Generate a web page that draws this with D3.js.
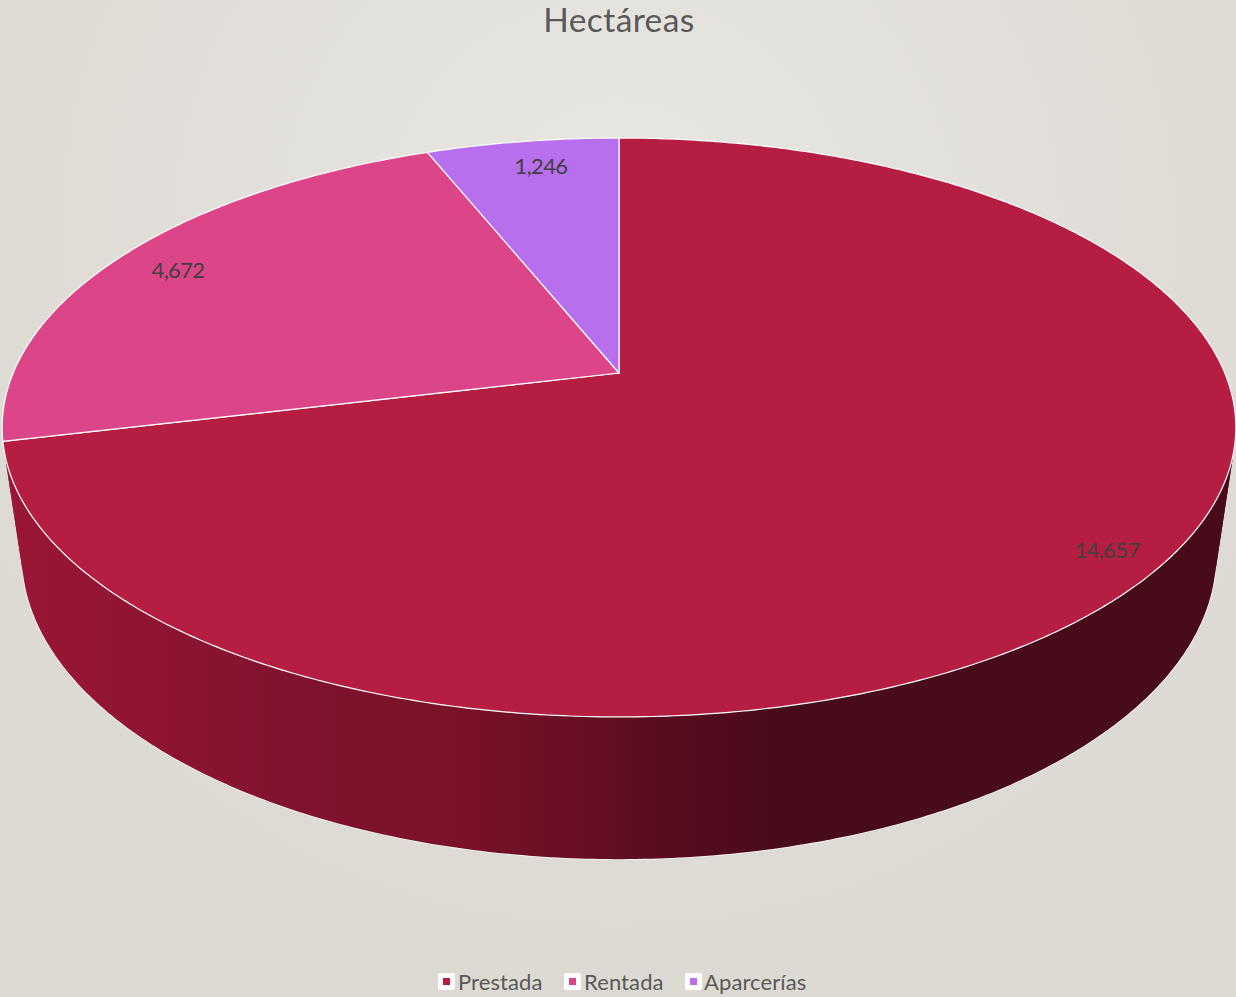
<!DOCTYPE html>
<html><head><meta charset="utf-8">
<script src="https://cdn.jsdelivr.net/npm/d3@7"></script>
<style>html,body{margin:0;padding:0;background:#dfdcd6;overflow:hidden}svg{display:block}text{font-family:Lato,"Open Sans",sans-serif}</style>
</head><body><svg id="c" width="1236" height="997"></svg>
<script>
const titleText = "Hectáreas";
const categories = ["Prestada", "Rentada", "Aparcerías"];
const values = [14657, 4672, 1246];
const labels = ["14,657", "4,672", "1,246"];
const sliceColors = ["#b51d42", "#dd4589", "#b76fed"];
const wallStopX = [0, 100, 300, 450, 600, 660, 780, 1236];
const wallStopColors = ["#9a1636", "#931534", "#80122d", "#7a1229", "#650e22", "#5a0c1e", "#470b1a", "#470b1a"];

const W = 1236, H = 997;
const svg = d3.select("#c");
const defs = svg.append("defs");
const bg = defs.append("radialGradient").attr("id", "bg").attr("gradientUnits", "userSpaceOnUse")
  .attr("cx", 618).attr("cy", 230).attr("r", 800);
bg.append("stop").attr("offset", 0).attr("stop-color", "#e9e7e3");
bg.append("stop").attr("offset", 0.65).attr("stop-color", "#e0ddd7");
bg.append("stop").attr("offset", 1).attr("stop-color", "#dcd9d2");
svg.append("rect").attr("width", W).attr("height", H).attr("fill", "url(#bg)");

const wg = defs.append("linearGradient").attr("id", "wall").attr("gradientUnits", "userSpaceOnUse")
  .attr("x1", 0).attr("x2", W).attr("y1", 0).attr("y2", 0);
wallStopX.forEach((x, i) => wg.append("stop").attr("offset", x / W).attr("stop-color", wallStopColors[i]));

// Perspective projection of the unit disc (u, v) at depth h
const cx = 619, apexY = 373, A = 605.8, B = 279.2, k = 0.1882, m = 0.032, C = 131;
function proj(theta, r, h) {
  const u = r * Math.sin(theta), v = r * Math.cos(theta), w = 1 + k * v + m * h;
  return [cx + A * u / w, apexY - (B * v - C * h) / w];
}
const pie = d3.pie().sort(null).value(d => d);
const arcs = pie(values);
const line = d3.line();

function rim(a, h) {
  const n = Math.max(2, Math.ceil((a.endAngle - a.startAngle) / 0.01));
  return d3.range(n + 1).map(i => proj(a.startAngle + (a.endAngle - a.startAngle) * i / n, 1, h));
}
// faint light edge on the lower rim, mostly covered by the wall drawn after it
svg.append("g").selectAll("path").data(arcs).join("path")
  .attr("d", a => line(rim(a, 1))).attr("fill", "none")
  .attr("stroke", "#fff").attr("stroke-opacity", 0.75).attr("stroke-width", 1.6);
// side wall: quads grouped by orientation so overlaps neither cancel nor show seams
const quads = arcs.flatMap(a => {
  const top = rim(a, 0), bot = rim(a, 1);
  return d3.range(top.length - 1).map(j => [top[j], top[j + 1], bot[j + 1], bot[j]]);
});
[false, true].forEach(sign => {
  const d = quads.filter(q => (d3.polygonArea(q) > 0) === sign).map(q => line(q) + "Z").join("");
  svg.append("path").attr("d", d).attr("fill", "url(#wall)");
});
// top faces
svg.append("g").selectAll("path").data(arcs).join("path")
  .attr("d", a => line([proj(0, 0, 0), ...rim(a, 0)]) + "Z")
  .attr("fill", (a, i) => sliceColors[i]).attr("stroke", "#fff").attr("stroke-width", 1.2).attr("stroke-linejoin", "round");

// data labels
const labelPos = [[1107, 549], [178, 269], [541, 165]];
svg.append("g").selectAll("text").data(labels).join("text")
  .attr("x", (d, i) => labelPos[i][0]).attr("y", (d, i) => labelPos[i][1])
  .attr("text-anchor", "middle").attr("dominant-baseline", "central")
  .attr("font-size", 22).attr("letter-spacing", -0.6).attr("fill", "#404040").text(d => d);

svg.append("text").attr("x", 619).attr("y", 32).attr("text-anchor", "middle")
  .attr("font-size", 33.5).attr("letter-spacing", 0.4).attr("fill", "#595959").text(titleText);

// legend
const legendX = [438, 564, 685], legendTextX = [458, 584, 704];
const lg = svg.append("g").selectAll("g").data(categories).join("g");
lg.append("rect").attr("x", (d, i) => legendX[i]).attr("y", 973).attr("width", 17).attr("height", 17).attr("rx", 2).attr("fill", "#fff");
lg.append("rect").attr("x", (d, i) => legendX[i] + 5).attr("y", 978).attr("width", 7).attr("height", 7).attr("fill", (d, i) => sliceColors[i]);
lg.append("text").attr("x", (d, i) => legendTextX[i]).attr("y", 990).attr("font-size", 22).attr("letter-spacing", 0.1).attr("fill", "#595959").text(d => d);
</script></body></html>
